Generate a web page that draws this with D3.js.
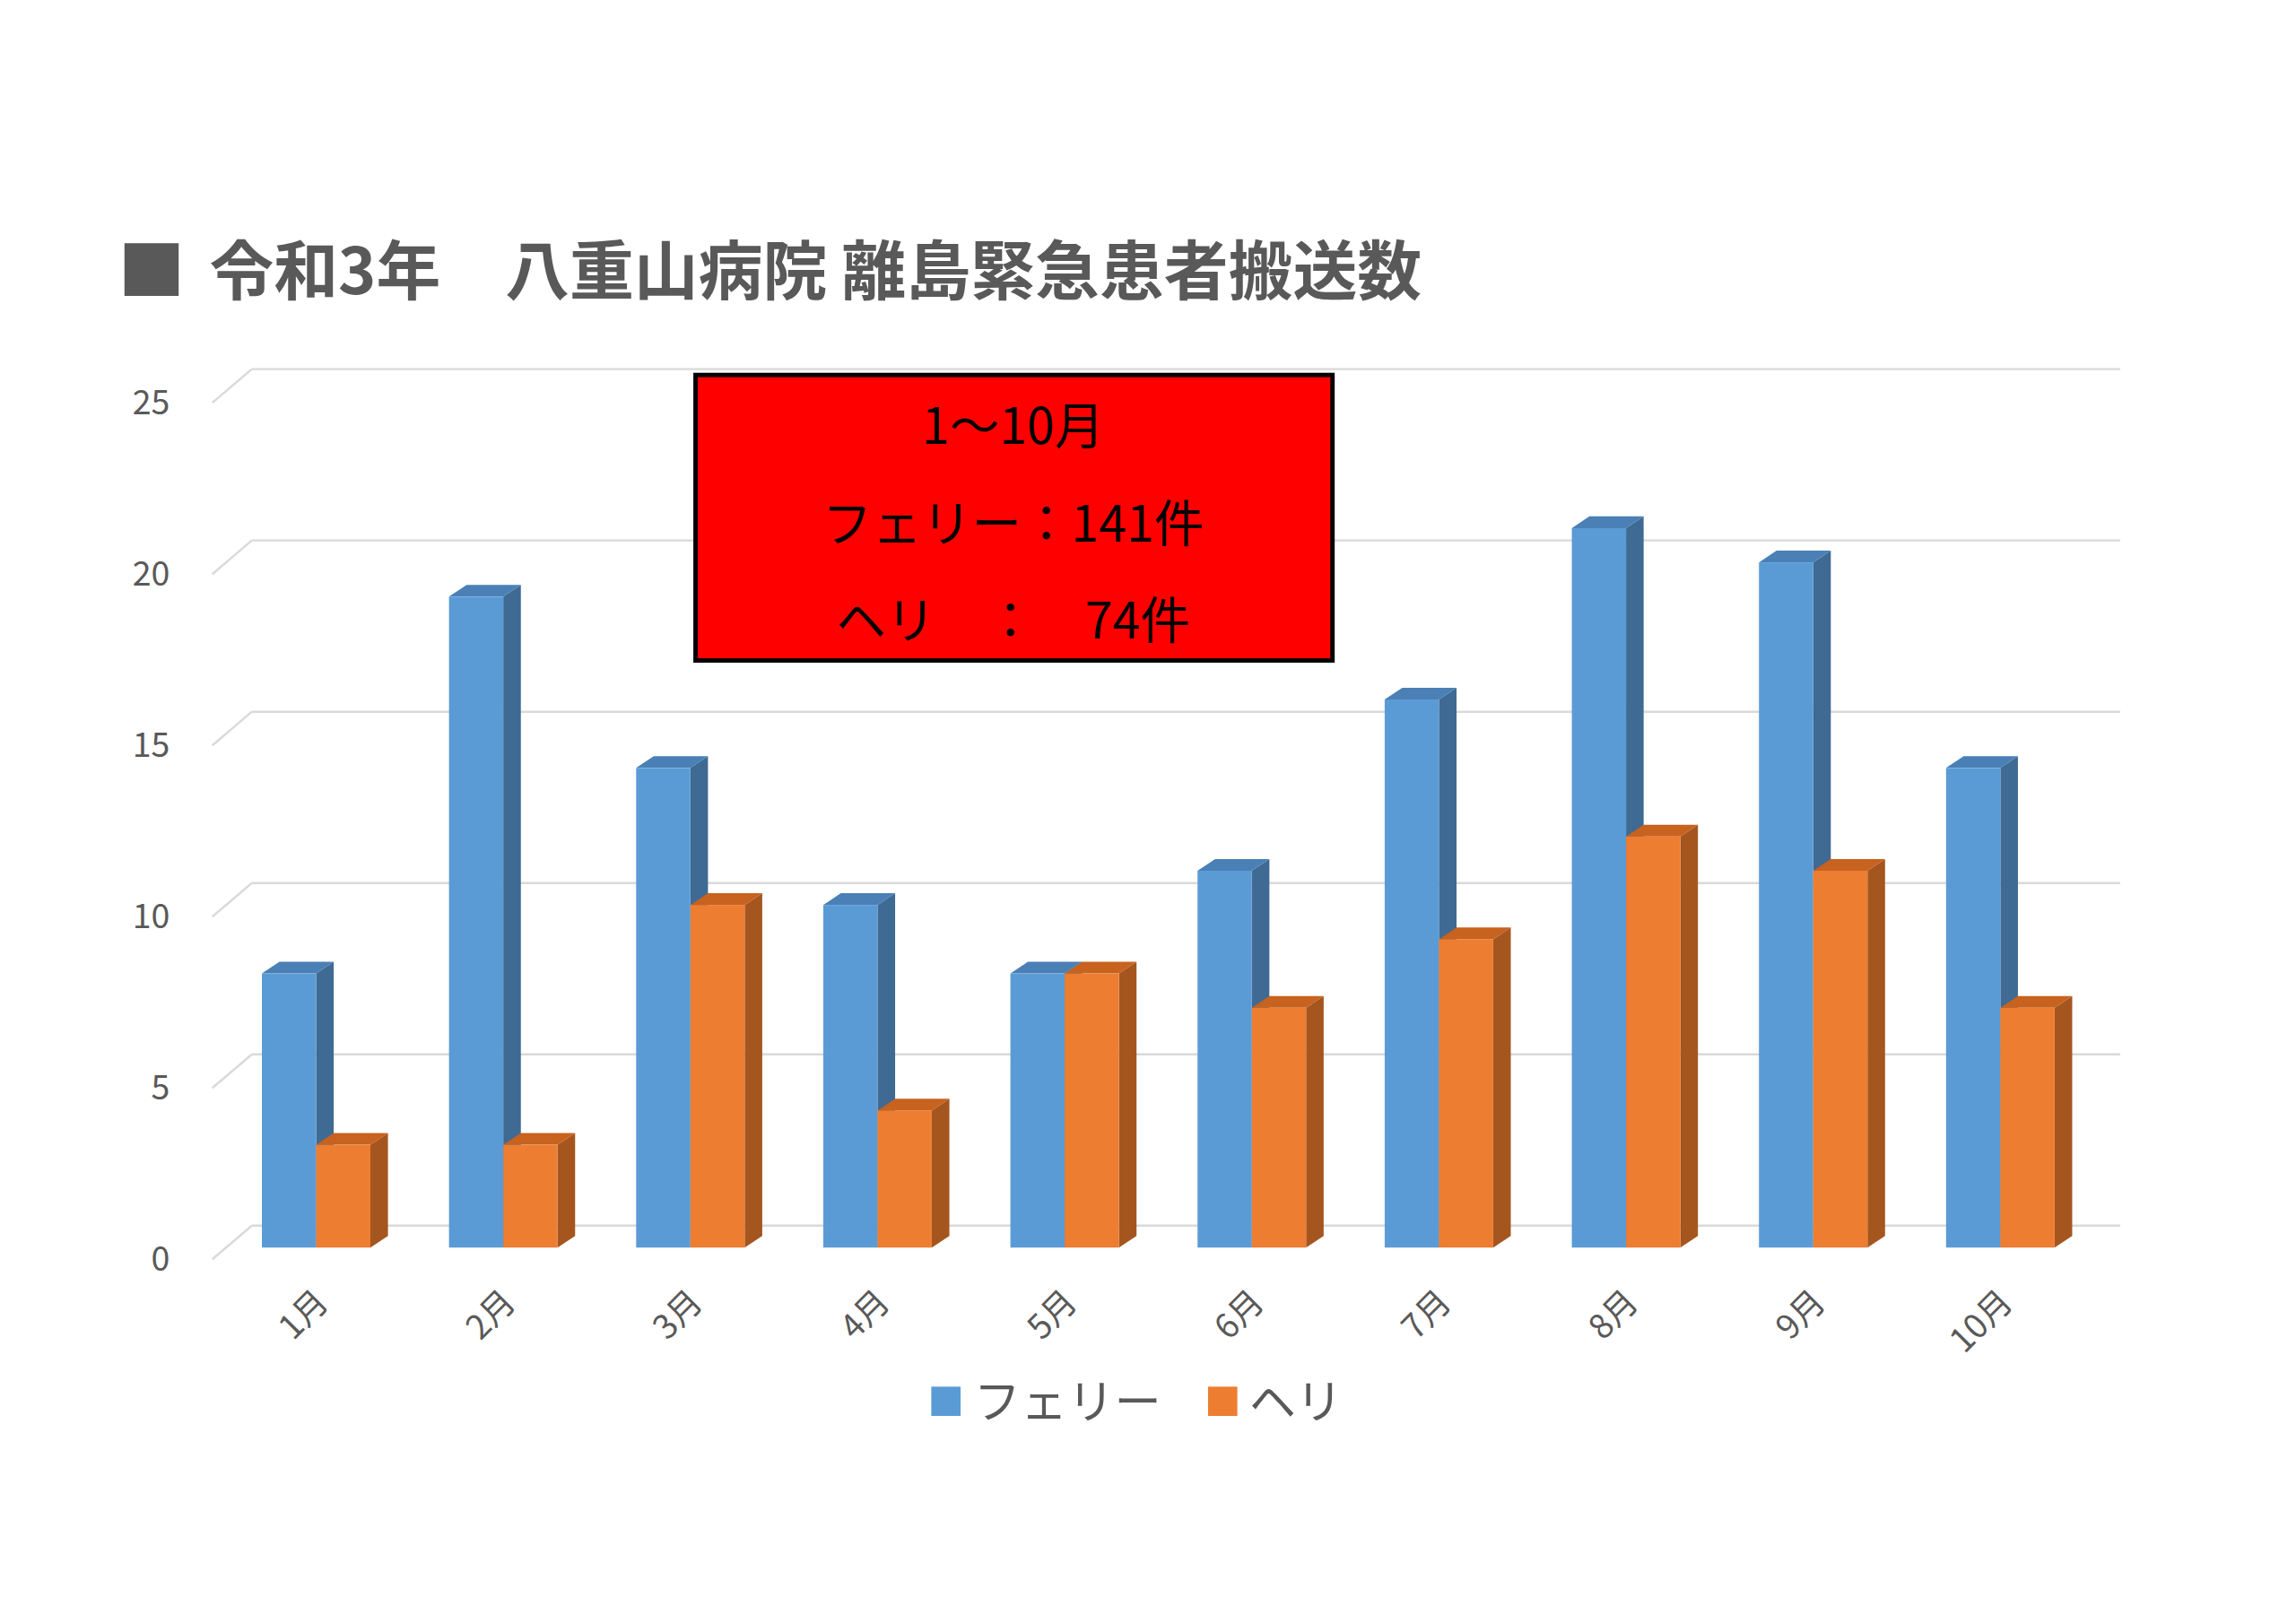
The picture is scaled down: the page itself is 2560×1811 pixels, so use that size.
<!DOCTYPE html><html><head><meta charset="utf-8">
<script src="https://cdn.jsdelivr.net/npm/d3@7"></script>
<style>body{margin:0;background:#fff}</style></head><body>
<svg id="c" width="2560" height="1811" viewBox="0 0 1568 1109"></svg>
<script>
const months=["1月","2月","3月","4月","5月","6月","7月","8月","9月","10月"];
const ferry=[8,19,14,10,8,11,16,21,20,14];
const heli=[3,3,10,4,8,7,9,12,11,7];
const yTicks=[0,5,10,15,20,25];
const svg=d3.select("#c");
const F="'Noto Sans CJK JP','Noto Sans',sans-serif";
svg.append("rect").attr("x",85).attr("y",166).attr("width",37).attr("height",36).attr("fill","#595959");
svg.append("text").attr("x",143).attr("y",201).attr("font-size",44).attr("font-weight","bold").attr("fill","#595959").attr("font-family",F).text("令和3年　八重山病院 離島緊急患者搬送数");
const y=d3.scaleLinear().domain([0,25]).range([852,267]);
const x=d3.scaleBand().domain(months).range([152,1430]).paddingInner(0.42).paddingOuter(0.21);
const g=svg.append("g");
yTicks.forEach(v=>{
  const yy=y(v);
  g.append("line").attr("x1",172).attr("x2",1448).attr("y1",yy-15).attr("y2",yy-15).attr("stroke","#d9d9d9").attr("stroke-width",1.5);
  g.append("line").attr("x1",145).attr("x2",172).attr("y1",yy+8).attr("y2",yy-15).attr("stroke","#d9d9d9").attr("stroke-width",1.5);
  g.append("text").attr("x",116).attr("y",yy+16).attr("text-anchor","end").attr("font-size",23).attr("fill","#595959").attr("font-family",F).text(v);
});
const dx=12,dy=-8;
function bar(x0,w,v,c,side,top){
  const yt=y(v),yb=y(0);
  g.append("path").attr("d",`M${x0+w},${yt}L${x0+w+dx},${yt+dy}L${x0+w+dx},${yb+dy}L${x0+w},${yb}Z`).attr("fill",side);
  g.append("path").attr("d",`M${x0},${yt}L${x0+dx},${yt+dy}L${x0+w+dx},${yt+dy}L${x0+w},${yt}Z`).attr("fill",top);
  g.append("rect").attr("x",x0).attr("y",yt).attr("width",w).attr("height",yb-yt).attr("fill",c);
}
months.forEach((m,i)=>{
  const bw=x.bandwidth()/2;
  bar(x(m),bw,ferry[i],"#5B9BD5","#3E6A93","#4A80B5");
  bar(x(m)+bw,bw,heli[i],"#ED7D31","#A5561F","#C7621F");
  const cx=x(m)+bw+4;
  svg.append("text").attr("transform",`translate(${cx},${885}) rotate(-45)`).attr("text-anchor","end").attr("dy","0.35em").attr("font-size",23).attr("fill","#595959").attr("font-family",F).text(m);
});
svg.append("rect").attr("x",475).attr("y",256).attr("width",435).attr("height",195).attr("fill","#FF0000").attr("stroke","#000").attr("stroke-width",3);
[["1～10月",303],["フェリー：141件",370],["ヘリ　：　74件",436]].forEach(([t,yy])=>
  svg.append("text").attr("x",692).attr("y",yy).attr("text-anchor","middle").attr("font-size",34).attr("font-family",F).attr("fill","#000").text(t));
svg.append("rect").attr("x",636).attr("y",947).attr("width",20).attr("height",20).attr("fill","#5B9BD5");
svg.append("text").attr("x",665).attr("y",969).attr("font-size",32).attr("fill","#595959").attr("font-family",F).text("フェリー");
svg.append("rect").attr("x",825).attr("y",947).attr("width",20).attr("height",20).attr("fill","#ED7D31");
svg.append("text").attr("x",853).attr("y",969).attr("font-size",32).attr("fill","#595959").attr("font-family",F).text("ヘリ");
</script></body></html>
